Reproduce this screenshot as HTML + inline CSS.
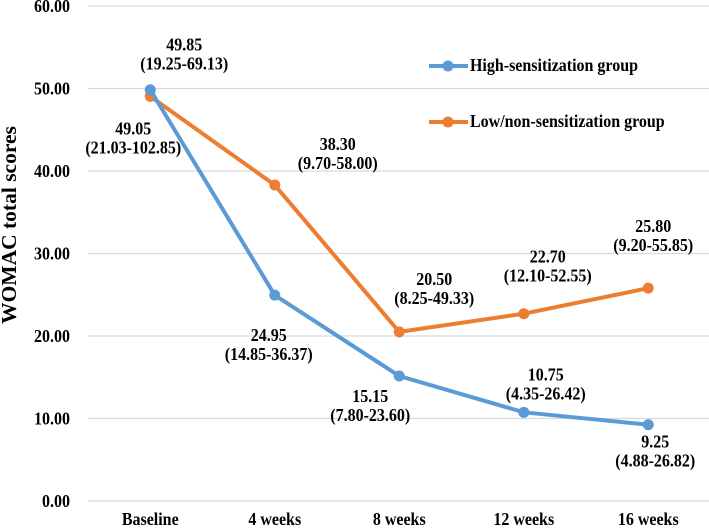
<!DOCTYPE html>
<html><head><meta charset="utf-8"><style>
body{margin:0;background:#fff}
svg text{font-family:"Liberation Serif","DejaVu Serif",serif;font-weight:bold;fill:#000}
</style></head><body>
<svg id="chart" width="709" height="527" xmlns="http://www.w3.org/2000/svg" font-family="Liberation Serif, serif">
<g id="grid"></g><g id="series"></g><g id="labels"></g>
<text font-family="Liberation Serif, serif" transform="translate(16,225) rotate(-90)" text-anchor="middle" font-size="21.5">WOMAC total scores</text>
<g>
<g><line x1="429" y1="66" x2="468" y2="66" stroke="#5b9bd5" stroke-width="4"/><circle cx="448" cy="66" r="5.5" fill="#5b9bd5"/><text font-family="Liberation Serif, serif" transform="translate(470,71) scale(1,1.12)" font-size="16">High-sensitization group</text></g>
<g><line x1="429" y1="122" x2="468" y2="122" stroke="#ed7d31" stroke-width="4"/><circle cx="448" cy="122" r="5.5" fill="#ed7d31"/><text font-family="Liberation Serif, serif" transform="translate(470,127) scale(1,1.12)" font-size="16">Low/non-sensitization group</text></g>
</g>
</svg>
<script>
const categories=["Baseline","4 weeks","8 weeks","12 weeks","16 weeks"];
const highValues=[49.85,24.95,15.15,10.75,9.25];
const lowValues=[49.05,38.30,20.50,22.70,25.80];
const highRanges=["(19.25-69.13)","(14.85-36.37)","(7.80-23.60)","(4.35-26.42)","(4.88-26.82)"];
const lowRanges=["(21.03-102.85)","(9.70-58.00)","(8.25-49.33)","(12.10-52.55)","(9.20-55.85)"];
const yTicks=[0,10,20,30,40,50,60];
const NS="http://www.w3.org/2000/svg";
const x0=88,band=124.5,yZero=501,yTop=6;
function xs(i){return x0+band*(i+0.5);}
function ys(v){return yZero-(v/60)*(yZero-yTop);}
function mk(t,a,p){const e=document.createElementNS(NS,t);for(const k in a)e.setAttribute(k,a[k]);p.appendChild(e);return e;}
function txt(x,y,anchor,size,str,p){
 const e=mk('text',{transform:'translate('+x+','+y+') scale(1,1.12)','text-anchor':anchor,'font-size':size,'font-family':'Liberation Serif, serif'},p);
 e.textContent=str;return e;
}
const grid=document.getElementById('grid');
yTicks.forEach(t=>{
 const l=mk('line',{x1:x0,x2:709,y1:ys(t),y2:ys(t),stroke:'#d9d9d9','stroke-width':1.3},grid);
 
 
 const tx=txt(70,ys(t)+6,'end',16,t.toFixed(2),grid);
 
 
});
categories.forEach((c,i)=>{
 const tx=txt(xs(i),525,'middle',16,c,grid);
 
 
});
const ser=document.getElementById('series');
function drawSeries(vals,color,name){
 const pl=mk('polyline',{points:vals.map((v,i)=>xs(i)+','+ys(v)).join(' '),fill:'none',stroke:color,'stroke-width':4,'stroke-linejoin':'round'},ser);
 
 
 vals.forEach((v,i)=>{
  const c=mk('circle',{cx:xs(i),cy:ys(v),r:5.5,fill:color},ser);
  
  
 });
}
drawSeries(lowValues,'#ed7d31','low-sensitization');
drawSeries(highValues,'#5b9bd5','high-sensitization');
const highOff=[[34,-39],[-6,46],[-29,26],[22,-32],[7,23]];
const lowOff=[[-17,38],[63,-35],[35,-47],[24,-51],[5,-56]];
const lab=document.getElementById('labels');
function drawLabels(vals,ranges,off,name){
 vals.forEach((v,i)=>{
  const x=xs(i)+off[i][0],y=ys(v)+off[i][1];
  const a=txt(x,y,'middle',16,v.toFixed(2),lab);
  
  
  const b=txt(x,y+19,'middle',16,ranges[i],lab);
  
  
 });
}
drawLabels(highValues,highRanges,highOff,'high-sensitization');
drawLabels(lowValues,lowRanges,lowOff,'low-sensitization');
</script>
</body></html>
